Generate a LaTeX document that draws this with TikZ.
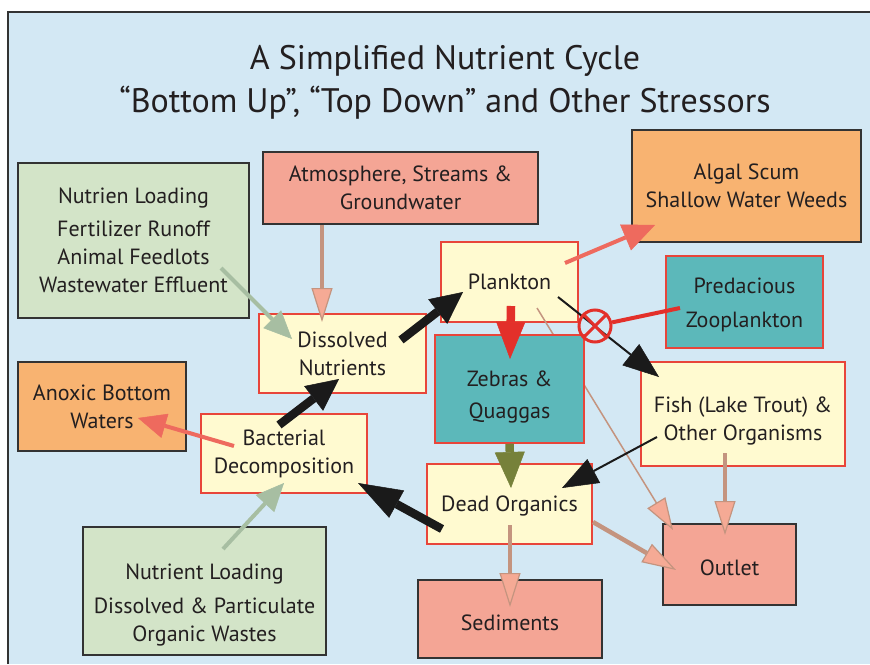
\documentclass[tikz,border=0pt]{standalone}
\usepackage{fontspec}
\setmainfont{PT Sans}
\usepackage{tikz}
\usetikzlibrary{arrows.meta}

\definecolor{bgblue}{HTML}{D3E8F4}
\definecolor{ink}{HTML}{231F20}
\definecolor{edgered}{HTML}{E8453A}
\definecolor{edgegray}{HTML}{333333}
\definecolor{cream}{HTML}{FFFAD0}
\definecolor{teal}{HTML}{5CB8BA}
\definecolor{salmon}{HTML}{F4A595}
\definecolor{apricot}{HTML}{F8B371}
\definecolor{sage}{HTML}{D3E4C8}
\definecolor{sageline}{HTML}{A7BEA2}
\definecolor{tanline}{HTML}{C4947F}
\definecolor{tanhead}{HTML}{F5AA95}
\definecolor{coral}{HTML}{EE6A5E}
\definecolor{redarrow}{HTML}{E3302A}
\definecolor{olive}{HTML}{76813A}
\definecolor{inkblack}{HTML}{1A1A1A}

\begin{document}
\begin{tikzpicture}[x=1pt, y=-1pt,
    box/.style={draw=edgered, line width=1.5pt, fill=#1, align=center, inner sep=0pt, text=ink, font=\fontsize{22}{28}\selectfont},
    src/.style={draw=edgegray, line width=1.5pt, fill=#1, align=center, inner sep=0pt, text=ink, font=\fontsize{22}{28}\selectfont},
    fat/.style={draw=#1, line width=8.5pt, -{Triangle[length=32pt,width=31pt,line width=0.5pt]}},
    slim/.style={draw=inkblack, line width=2pt, -{Triangle[length=36pt,width=27pt,line width=0.5pt]}},
    flow/.style={draw=#1, line width=4pt, -{Triangle[length=28pt,width=25pt,line width=0.5pt]}},
    feed/.style={draw=tanline, line width=4.5pt, -{Triangle[length=34pt,width=21pt,fill=tanhead,line width=1.2pt]}},
    stopsign/.style={circle, draw=redarrow, line width=3pt, minimum size=32pt, inner sep=0pt},
]
\useasboundingbox (0,0) rectangle (870,664);
% frame
\fill[bgblue] (8,12) rectangle (870,664);
\draw[edgegray, line width=2pt] (8,664) -- (8,12) -- (870,12);
% title
\node[text=ink, align=center, font=\fontsize{34}{43}\selectfont] (title) at (445,82)
  {A Simplified Nutrient Cycle\\“Bottom Up”, “Top Down” and Other Stressors};
% sources
\node[src=sage, minimum width=231pt, minimum height=155pt] (load1) at (133.5,240.5)
  {Nutrien Loading\\[5pt]Fertilizer Runoff\\Animal Feedlots\\Wastewater Effluent};
\node[src=salmon, minimum width=275pt, minimum height=72pt] (atmos) at (400.5,188)
  {Atmosphere, Streams \&\\Groundwater};
\node[src=apricot, minimum width=229pt, minimum height=112pt] (algal) at (746.5,186)
  {Algal Scum\\Shallow Water Weeds};
\node[src=apricot, minimum width=168pt, minimum height=89pt] (anoxic) at (102,406.5)
  {Anoxic Bottom\\Waters};
\node[src=sage, minimum width=243pt, minimum height=128pt] (load2) at (204.5,591)
  {\rule{0pt}{44pt}Nutrient Loading\\[6pt]Dissolved \& Particulate\\Organic Wastes};
\node[src=salmon, minimum width=133pt, minimum height=81pt] (outlet) at (729.5,564.5) {\rule{0pt}{23pt}Outlet};
\node[src=salmon, minimum width=184pt, minimum height=78pt] (sed) at (510,619) {\rule{0pt}{24pt}Sediments};
% cycle
\node[box=cream, minimum width=137pt, minimum height=80pt] (plank) at (509.5,282) {Plankton};
\node[box=teal, minimum width=157pt, minimum height=92pt] (pred) at (744.5,302)
  {\rule{0pt}{21pt}Predacious\\[6pt]Zooplankton};
\node[box=cream, minimum width=167pt, minimum height=79pt] (dissolved) at (342.5,353.5)
  {Dissolved\\Nutrients};
\node[box=cream, minimum width=166pt, minimum height=79pt] (bact) at (284,453.5)
  {Bacterial\\Decomposition};
\node[box=cream, minimum width=204pt, minimum height=104pt] (fish) at (743,414)
  {\rule{0pt}{30pt}Fish (Lake Trout) \&\\Other Organisms};
\node[box=cream, minimum width=165pt, minimum height=80pt] (dead) at (509.5,504) {\rule{0pt}{20pt}Dead Organics};
% runs behind the mussels
\draw[tanline, line width=1.5pt, -{Triangle[length=32pt,width=21pt,fill=tanhead,line width=1.2pt]}]
  ([shift={(27.5,26)}]plank.center) -- ([shift={(-56.5,-34.5)}]outlet.center);
\node[box=teal, minimum width=149pt, minimum height=108pt] (zebra) at (509.5,389)
  {\rule{0pt}{32pt}Zebras \&\\[4pt]Quaggas};
% arrows
\draw[flow=sageline] ([shift={(87.5,27.5)}]load1.center) -- ([shift={(-50.5,-14.5)}]dissolved.center);
\draw[feed] ([xshift=-78.5pt]atmos.south) -- ([shift={(-20.5,-31.5)}]dissolved.center);
\draw[fat=inkblack] ([shift={(58.5,-13.5)}]dissolved.center) -- ([shift={(-46.5,10)}]plank.center);
\draw[fat=inkblack] ([shift={(-5,-28.5)}]bact.center) -- ([shift={(-3.5,25.5)}]dissolved.center);
\draw[flow=coral, -{Triangle[length=32pt,width=28pt,line width=0.5pt]}] ([shift={(55.5,-19)}]plank.center) -- ([shift={(-91.5,39)}]algal.center);
\draw[fat=redarrow, -{Triangle[length=37pt,width=29pt,line width=0.5pt]}] ([shift={(1.5,24)}]plank.center) -- ([shift={(0.5,-30)}]zebra.center);
\draw[slim] ([shift={(48.5,15)}]plank.center) -- ([shift={(-84,-37)}]fish.center);
\node[stopsign] (inhibit) at (595,326) {};
\draw[redarrow, line width=3pt] (inhibit.45) -- (inhibit.225) (inhibit.135) -- (inhibit.315);
\draw[redarrow, line width=4pt] ([shift={(-64.5,6)}]pred.center) -- (inhibit);
\draw[slim] ([shift={(-86,23)}]fish.center) -- ([shift={(52.5,-16)}]dead.center);
\draw[fat=olive, -{Triangle[length=36pt,width=30pt,line width=0.5pt]}] (zebra.south) -- ([shift={(1.5,-16)}]dead.center);
\draw[feed] ([shift={(-18,39)}]fish.center) -- ([shift={(-4.5,-29.5)}]outlet.center);
\draw[feed] ([shift={(83.5,18)}]dead.center) -- ([shift={(-53.5,5.5)}]outlet.center);
\draw[feed] ([shift={(0.5,21)}]dead.center) -- ([shift={(0,-12)}]sed.center);
\draw[fat=inkblack, -{Triangle[length=44pt,width=31pt,line width=0.5pt]}] ([shift={(-67.5,25)}]dead.center) -- ([shift={(74,29.5)}]bact.center);
\draw[flow=coral] ([shift={(-50,-7.5)}]bact.center) -- ([shift={(36,11.5)}]anoxic.center);
\draw[flow=sageline] ([shift={(18.5,-42)}]load2.center) -- ([shift={(0,29.5)}]bact.center);
\end{tikzpicture}
\end{document}
